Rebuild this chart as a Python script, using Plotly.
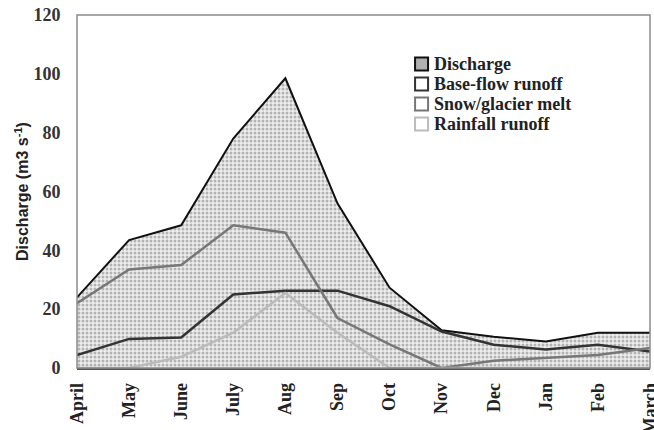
import plotly.graph_objects as go

months = ["April", "May", "June", "July", "Aug", "Sep", "Oct", "Nov", "Dec", "Jan", "Feb", "March"]
discharge = [24, 43.5, 48.5, 78, 98.5, 56, 27.3, 12.8, 10.6, 9, 12, 12]
baseflow = [4.4, 9.9, 10.4, 25, 26.3, 26.3, 21, 12.4, 7.9, 6.3, 7.9, 5.6]
snowmelt = [22, 33.5, 35, 48.5, 46, 17, 8, 0, 2.5, 3.4, 4.4, 6.8]
rainfall = [0, 0, 3.8, 12, 25.5, 12, 0, 0, 0, 0, 0, 0]
series_names = ["Discharge", "Base-flow runoff", "Snow/glacier melt", "Rainfall runoff"]

serif = "Liberation Serif"
line_colors = ["#111111", "#333333", "#777777", "#bbbbbb"]

fig = go.Figure()
fig.add_trace(go.Scatter(
    x=months, y=discharge, mode="lines", fill="tozeroy", name=series_names[0],
    line=dict(color=line_colors[0], width=2),
    fillpattern=dict(shape=".", fgcolor="#777777", bgcolor="#eeeeee", size=4, solidity=0.45),
    showlegend=False))
for vals, name, col in zip([baseflow, snowmelt, rainfall], series_names[1:], line_colors[1:]):
    fig.add_trace(go.Scatter(x=months, y=vals, mode="lines", name=name,
                             line=dict(color=col, width=2.5), showlegend=False))

# plot-area frame
fig.add_shape(type="rect", xref="paper", yref="paper", x0=0, x1=1, y0=0, y1=1,
              line=dict(color="#8a8a8a", width=1.5), fillcolor="rgba(0,0,0,0)", layer="above")

# legend drawn as layout items (tight row spacing like the reference)
lx_sq, lx_txt, ly0, lstep = 0.590, 0.6196, 0.861, 0.0567
for i, (name, col) in enumerate(zip(series_names, line_colors)):
    yy = ly0 - i * lstep
    fig.add_shape(type="rect", xref="paper", yref="paper",
                  xsizemode="pixel", ysizemode="pixel", xanchor=lx_sq, yanchor=yy,
                  x0=0, x1=13, y0=-6.5, y1=6.5,
                  line=dict(color=col, width=2),
                  fillcolor="#b0b0b0" if i == 0 else "white")
    fig.add_annotation(x=lx_txt, y=yy, xref="paper", yref="paper", text=name,
                       showarrow=False, xanchor="left", yanchor="middle",
                       font=dict(family=serif, size=18, color="#222222", weight="bold"))

fig.update_layout(
    width=654, height=430,
    margin=dict(l=77, r=4, t=15, b=62),
    plot_bgcolor="white", paper_bgcolor="white",
    showlegend=False,
    xaxis=dict(type="category", range=[0, 11], tickangle=-90, automargin=False,
               ticklabeloverflow="allow",
               tickfont=dict(family=serif, size=18, color="#222222", weight="bold"),
               showgrid=False, showline=True, linecolor="#555555", linewidth=1.5,
               ticks="outside", ticklen=6, tickcolor="white", zeroline=False),
    yaxis=dict(range=[0, 120], dtick=20, showgrid=False, automargin=False,
               ticklabeloverflow="allow",
               tickfont=dict(family=serif, size=18, color="#333333", weight="bold"),
               showline=False,
               ticks="outside", ticklen=12, tickcolor="white", zeroline=False,
               title=dict(text="Discharge (m3 s<sup>-1</sup>)", standoff=0,
                          font=dict(family="Liberation Sans", size=16, color="#222222", weight="bold"))),
)

fig.write_html("out.html", config={"displayModeBar": False},
               post_script="document.body.style.margin='0';document.body.style.overflow='hidden';")
